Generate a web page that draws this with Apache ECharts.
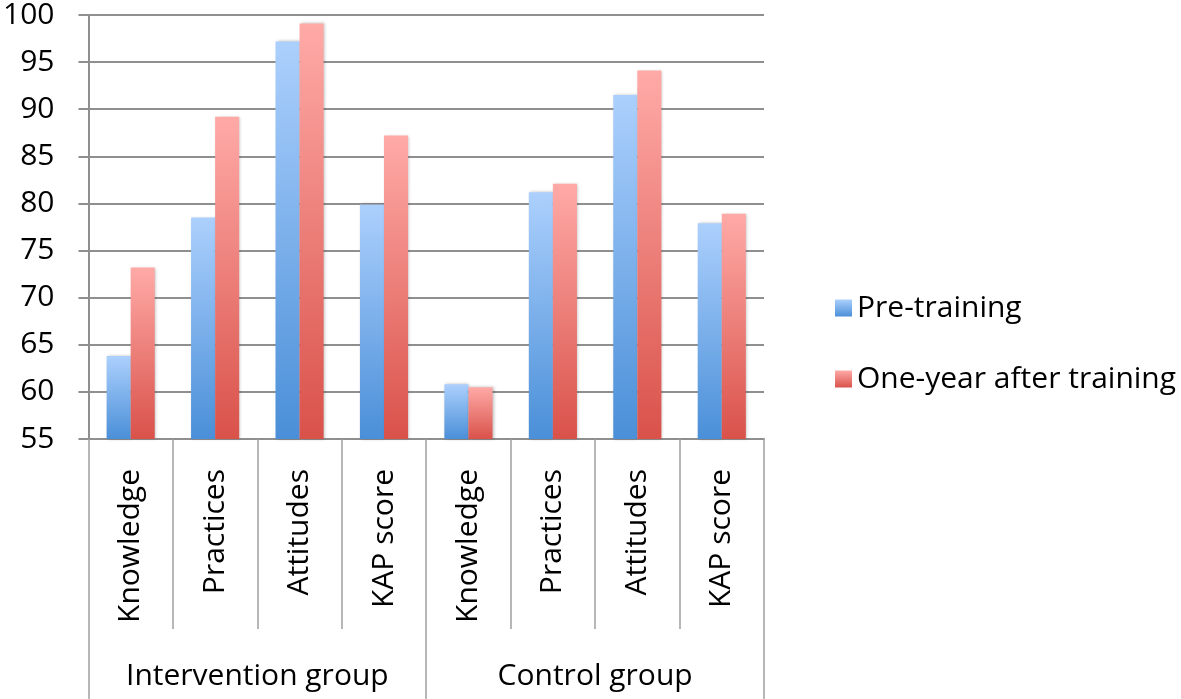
<!DOCTYPE html>
<html>
<head>
<meta charset="utf-8">
<script src="https://cdn.jsdelivr.net/npm/echarts@6/dist/echarts.min.js"></script>
<style>html,body{margin:0;padding:0;background:#fff}#c{width:1181px;height:699px}</style>
</head>
<body>
<div id="c"></div>
<script>
const categories = ['Knowledge','Practices','Attitudes','KAP score','Knowledge','Practices','Attitudes','KAP score'];
const groups = ['Intervention group','Control group'];
const seriesNames = ['Pre-training','One-year after training'];
const preTraining = [63.8, 78.5, 97.2, 79.9, 60.8, 81.2, 91.5, 77.9];
const afterTraining = [73.2, 89.2, 99.1, 87.2, 60.5, 82.1, 94.1, 78.9];
const yTicks = [55, 100, 5];

const FONT = 'Open Sans';
const GRAY = '#8f8f8f';
const FS = 30;
function grad(top, bottom){
  return new echarts.graphic.LinearGradient(0,0,0,1,[{offset:0,color:top},{offset:1,color:bottom}]);
}
const chart = echarts.init(document.getElementById('c'), null, {renderer:'canvas'});
chart.setOption({
  animation:false,
  textStyle:{fontFamily:FONT},
  grid:{left:87, right:417, top:9.5, bottom:260, containLabel:false},
  legend:{
    orient:'vertical', left:830, top:288, itemGap:41,
    itemWidth:17, itemHeight:17, icon:'rect',
    textStyle:{fontSize:FS, color:'#000', fontFamily:FONT},
    data:seriesNames
  },
  xAxis:[{
    type:'category', data:categories, position:'bottom',
    axisLine:{show:true, onZero:false, lineStyle:{color:GRAY, width:2}},
    axisTick:{show:true, inside:false, interval:0, length:190, lineStyle:{color:'#a0a0a0', width:1.5}},
    axisLabel:{show:true, rotate:90, margin:30, fontSize:FS, color:'#000', fontFamily:FONT, interval:0}
  },{
    type:'category', data:groups, position:'bottom',
    axisLine:{show:false, onZero:false},
    axisTick:{show:true, inside:false, interval:0, length:262, lineStyle:{color:'#a0a0a0', width:1.5}},
    axisLabel:{show:true, margin:222, fontSize:FS, color:'#000', fontFamily:FONT, interval:0}
  }],
  yAxis:{
    type:'value', min:yTicks[0], max:yTicks[1], interval:yTicks[2],
    axisLine:{show:true, onZero:false, lineStyle:{color:GRAY, width:2}},
    axisTick:{show:true, inside:false, length:10, lineStyle:{color:GRAY, width:2}},
    splitLine:{show:true, lineStyle:{color:GRAY, width:2}},
    axisLabel:{margin:34, fontSize:FS, color:'#000', fontFamily:FONT}
  },
  series:[{
    name:seriesNames[0], type:'bar', data:preTraining, xAxisIndex:0,
    barGap:'0%', barCategoryGap:'43%',
    itemStyle:{color:grad('#acd0fd','#4a8fd8'), shadowColor:'rgba(0,0,0,0.25)', shadowBlur:3, shadowOffsetX:1}
  },{
    name:seriesNames[1], type:'bar', data:afterTraining, xAxisIndex:0,
    barGap:'0%', barCategoryGap:'43%',
    itemStyle:{color:grad('#ffaaa7','#d9524a'), shadowColor:'rgba(0,0,0,0.25)', shadowBlur:3, shadowOffsetX:1}
  }]
});
</script>
</body>
</html>
